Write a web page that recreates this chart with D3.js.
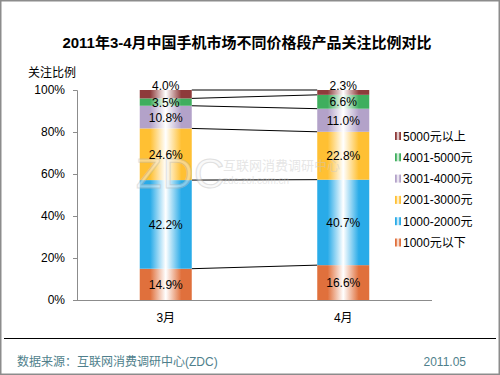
<!DOCTYPE html>
<html>
<head>
<meta charset="utf-8">
<script src="https://cdnjs.cloudflare.com/ajax/libs/d3/7.8.5/d3.min.js"></script>
<style>
  body { margin: 0; background: #fff; }
  svg { font-family: "Liberation Sans", Arial, "Noto Sans CJK SC", sans-serif; }
</style>
</head>
<body>
<div id="chart"></div>
<script>
var months = ["3月", "4月"];
var segments = ["1000元以下", "1000-2000元", "2001-3000元", "3001-4000元", "4001-5000元", "5000元以上"];
var march = [14.9, 42.2, 24.6, 10.8, 3.5, 4.0];
var april = [16.6, 40.7, 22.8, 11.0, 6.6, 2.3];
var yTicks = [0, 20, 40, 60, 80, 100];
var colors = ["#e0703c", "#29abe8", "#ffc033", "#b3a2c9", "#3fae5e", "#8e3b3b"];

var width = 500, height = 375;
var margin = { left: 77, top: 90, right: 68, bottom: 75 };

var svg = d3.select("#chart").append("svg")
    .attr("width", width)
    .attr("height", height);

// frame
svg.append("rect")
    .attr("x", 0.75).attr("y", 0.75)
    .attr("width", width - 1.5).attr("height", height - 1.5)
    .attr("fill", "#fff").attr("stroke", "#8c8c8c").attr("stroke-width", 1.5);

// gradients per segment
var defs = svg.append("defs");
colors.forEach(function (c, i) {
  var g = defs.append("linearGradient")
      .attr("id", "grad" + i)
      .attr("x1", "0%").attr("x2", "100%").attr("y1", "0%").attr("y2", "0%");
  g.append("stop").attr("offset", "0%").attr("stop-color", c);
  g.append("stop").attr("offset", "20%").attr("stop-color", c);
  g.append("stop").attr("offset", "50%").attr("stop-color", "#ffffff");
  g.append("stop").attr("offset", "80%").attr("stop-color", c);
  g.append("stop").attr("offset", "100%").attr("stop-color", c);
});

svg.append("text")
    .attr("x", 247).attr("y", 48)
    .attr("text-anchor", "middle")
    .attr("font-size", 15).attr("font-weight", "bold")
    .text("2011年3-4月中国手机市场不同价格段产品关注比例对比");

svg.append("text")
    .attr("x", 28).attr("y", 77)
    .attr("font-size", 12)
    .text("关注比例");

var x = d3.scaleBand()
    .domain(months)
    .range([margin.left, width - margin.right])
    .paddingInner(0.707).paddingOuter(0.3535);

var y = d3.scaleLinear()
    .domain([0, 100])
    .range([height - margin.bottom, margin.top]);

// y axis
var yAxis = svg.append("g")
    .attr("transform", "translate(" + margin.left + ",0)")
    .call(d3.axisLeft(y).tickValues(yTicks).tickSize(4).tickPadding(8)
        .tickFormat(function (d) { return d + "%"; }));
yAxis.selectAll("path, line").attr("stroke", "#8c8c8c");
yAxis.selectAll("text").attr("font-size", 12).attr("fill", "#000")
    .attr("font-family", "Liberation Sans, Arial, sans-serif");

// x axis
var xAxis = svg.append("g")
    .attr("transform", "translate(0," + y(0) + ")")
    .call(d3.axisBottom(x).tickSize(0).tickPadding(13));
xAxis.select("path").attr("stroke", "#8c8c8c").attr("d", "M" + margin.left + ",0.5H" + (width - margin.right));
xAxis.selectAll("text").attr("font-size", 12).attr("fill", "#000")
    .attr("font-family", "Liberation Sans, Arial, Noto Sans CJK SC, sans-serif");

// stacked data
var series = [march, april];
var stacks = series.map(function (vals) {
  var acc = 0;
  return vals.map(function (v, i) {
    var s = { i: i, v: v, y0: acc, y1: acc + v };
    acc += v;
    return s;
  });
});

// connector lines
var boundaries = d3.range(segments.length);
svg.append("g").selectAll("line")
    .data(boundaries)
    .enter().append("line")
    .attr("x1", x(months[0]) + x.bandwidth())
    .attr("x2", x(months[1]))
    .attr("y1", function (i) { return y(stacks[0][i].y1 > 100 ? 100 : stacks[0][i].y1); })
    .attr("y2", function (i) { return y(stacks[1][i].y1 > 100 ? 100 : stacks[1][i].y1); })
    .attr("stroke", "#000").attr("stroke-width", 1);

// bars
var barLabels = [];
stacks.forEach(function (st, m) {
  var g = svg.append("g");
  g.selectAll("rect")
      .data(st)
      .enter().append("rect")
      .attr("x", x(months[m]))
      .attr("y", function (d) { return y(d.y1); })
      .attr("width", x.bandwidth())
      .attr("height", function (d) { return y(d.y0) - y(d.y1); })
      .attr("fill", function (d) { return "url(#grad" + d.i + ")"; });
  barLabels.push({ m: m, st: st });
});

// watermark (semi-transparent, over the bars)
var wm = svg.append("g").attr("opacity", 0.45);
wm.append("text")
    .attr("x", 136).attr("y", 188)
    .attr("font-size", 42).attr("fill", "#f2f2f2")
    .attr("stroke", "#bbbbbb").attr("stroke-width", 1)
    .attr("letter-spacing", 1)
    .text("ZDC");
wm.append("text")
    .attr("x", 223).attr("y", 170)
    .attr("font-size", 13).attr("fill", "#c8c8c8")
    .text("互联网消费调研中心");
wm.append("text")
    .attr("x", 223).attr("y", 184)
    .attr("font-size", 10).attr("fill", "#cccccc")
    .text("zdc.zol.com.cn");

// value labels
barLabels.forEach(function (b) {
  svg.append("g").selectAll("text")
      .data(b.st)
      .enter().append("text")
      .attr("x", x(months[b.m]) + x.bandwidth() / 2)
      .attr("y", function (d) {
        var mid = (y(d.y0) + y(d.y1)) / 2;
        if (d.i === segments.length - 1 && y(d.y0) - y(d.y1) < 14) mid = y(d.y1) - 5;
        return mid + 4.5;
      })
      .attr("text-anchor", "middle")
      .attr("font-size", 12)
      .text(function (d) { return d.v.toFixed(1) + "%"; });
});

// legend
var legend = svg.append("g")
    .attr("transform", "translate(395,136)");
var items = legend.selectAll("g")
    .data(segments.map(function (s, i) { return { name: s, i: i }; }).reverse())
    .enter().append("g")
    .attr("transform", function (d, k) { return "translate(0," + (k * 21.3) + ")"; });
items.append("rect")
    .attr("x", 0).attr("y", -4).attr("width", 6).attr("height", 8)
    .attr("fill", function (d) { return "url(#grad" + d.i + ")"; });
items.append("text")
    .attr("x", 8).attr("y", 4.5)
    .attr("font-size", 12)
    .text(function (d) { return d.name; });

// footer
svg.append("line")
    .attr("x1", 4).attr("x2", 496)
    .attr("y1", 338.5).attr("y2", 338.5)
    .attr("stroke", "#000").attr("stroke-width", 1);
svg.append("text")
    .attr("x", 17).attr("y", 366)
    .attr("font-size", 12).attr("fill", "#4f7f8c")
    .text("数据来源：互联网消费调研中心(ZDC)");
svg.append("text")
    .attr("x", 466).attr("y", 366)
    .attr("text-anchor", "end")
    .attr("font-size", 12).attr("fill", "#4f7f8c")
    .text("2011.05");
</script>
</body>
</html>
